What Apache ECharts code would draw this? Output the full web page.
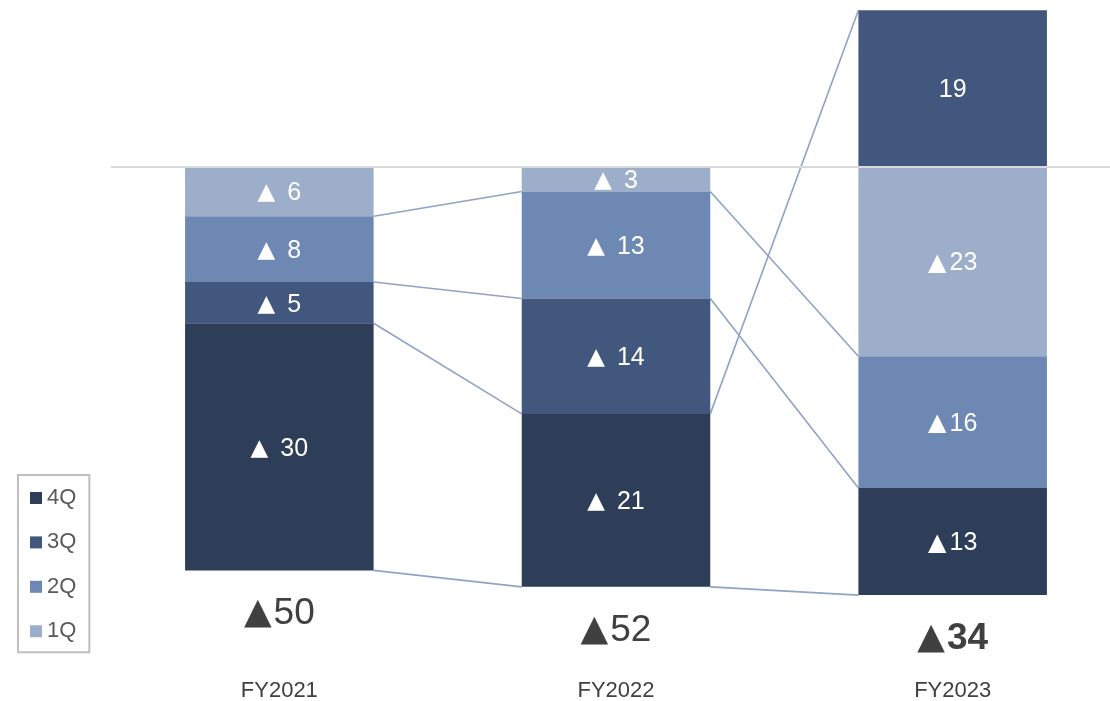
<!DOCTYPE html>
<html>
<head>
<meta charset="utf-8">
<script src="https://cdn.jsdelivr.net/npm/echarts@6/dist/echarts.min.js"></script>
<style>
  html, body { margin: 0; padding: 0; background: #ffffff; }
  #chart { width: 1110px; height: 701px; }
</style>
</head>
<body>
<div id="chart"></div>
<script>
// Fiscal years and quarterly results (negative = loss, shown with ▲)
const categories = ['FY2021', 'FY2022', 'FY2023'];
const quarterNames = ['1Q', '2Q', '3Q', '4Q'];
const q1 = [-6, -3, -23];
const q2 = [-8, -13, -16];
const q3 = [-5, -14, 19];
const q4 = [-30, -21, -13];
const totals = [-50, -52, -34];

const quarterColors = ['#9DAECB', '#6E88B4', '#42577E', '#2E3D58'];
const FONT = '"Liberation Sans", Arial, sans-serif';
const SYMBOL_FONT = '"DejaVu Sans", sans-serif';
const BAR_RATIO = 0.56;

const quarterValues = [q1, q2, q3, q4];

// Outer end of each stacked segment (positives and negatives stack separately)
const segmentEnds = quarterValues.map(() => []);
const stackBottoms = [];
categories.forEach((c, i) => {
  let pos = 0, neg = 0;
  quarterValues.forEach((vals, q) => {
    const v = vals[i];
    if (v >= 0) { pos += v; segmentEnds[q][i] = pos; }
    else { neg += v; segmentEnds[q][i] = neg; }
  });
  stackBottoms.push(neg);
});

function segLabel(p) {
  const v = p.value;
  if (v >= 0) return '{n|' + v + '}';
  const tri = p.dataIndex === 2 ? 't2' : 't';
  return '{' + tri + '|▲}{n|' + Math.abs(v) + '}';
}

const barSeries = quarterNames.map((name, q) => {
  const s = {
    name: name,
    type: 'bar',
    stack: 'total',
    barWidth: (BAR_RATIO * 100) + '%',
    data: quarterValues[q],
    itemStyle: { color: quarterColors[q] },
    label: {
      show: true,
      position: 'inside',
      offset: [0, 2],
      color: '#ffffff',
      formatter: segLabel,
      rich: {
        t: { color: '#ffffff', fontFamily: SYMBOL_FONT, fontSize: 23, padding: [0, 12, 0, 0] },
        t2: { color: '#ffffff', fontFamily: SYMBOL_FONT, fontSize: 24, padding: [0, 3, 0, 0] },
        n: { color: '#ffffff', fontFamily: FONT, fontSize: 25 }
      }
    },
    z: 2
  };
  if (q === 0) {
    s.markLine = {
      silent: true,
      symbol: ['none', 'none'],
      label: { show: false },
      lineStyle: { color: '#D9D9D9', width: 2, type: 'solid' },
      data: [{ yAxis: 0 }],
      z: 5
    };
  }
  return s;
});

// Connector lines between matching segment ends of neighbouring bars
const connectorSeries = {
  type: 'custom',
  silent: true,
  clip: false,
  z: 1,
  data: [[0], [1]],
  encode: { x: 0 },
  renderItem: function (params, api) {
    const i = api.value(0);
    const half = api.size([1, 0])[0] * BAR_RATIO / 2;
    const children = segmentEnds.map(ends => {
      const a = api.coord([i, ends[i]]);
      const b = api.coord([i + 1, ends[i + 1]]);
      return {
        type: 'line',
        shape: { x1: a[0] + half, y1: a[1], x2: b[0] - half, y2: b[1] },
        style: { stroke: '#90A3C6', lineWidth: 1.6 }
      };
    });
    return { type: 'group', children: children };
  }
};

// Year totals below each stack
const totalSeries = {
  type: 'scatter',
  silent: true,
  symbolSize: 0,
  itemStyle: { opacity: 1 },
  data: categories.map((c, i) => ({ value: [i, stackBottoms[i]] })),
  label: {
    show: true,
    opacity: 1,
    position: 'bottom',
    distance: 25,
    formatter: p => '{t|▲}{' + (p.dataIndex === 2 ? 'b' : 'n') + '|' + Math.abs(totals[p.dataIndex]) + '}',
    rich: {
      t: { color: '#404040', fontFamily: SYMBOL_FONT, fontSize: 36, padding: [0, 2, 0, 0] },
      n: { color: '#404040', fontFamily: FONT, fontSize: 37 },
      b: { color: '#404040', fontFamily: FONT, fontSize: 37, fontWeight: 'bold' }
    }
  },
  z: 3
};

const chart = echarts.init(document.getElementById('chart'), null, { renderer: 'canvas' });
chart.setOption({
  animation: false,
  backgroundColor: '#ffffff',
  grid: { left: 111, width: 1010, top: 2, bottom: 40, outerBoundsMode: 'none', containLabel: false },
  xAxis: {
    type: 'category',
    data: categories,
    axisLine: { show: false },
    axisTick: { show: false },
    axisLabel: { color: '#404040', fontSize: 22, fontFamily: FONT, margin: 19 }
  },
  yAxis: {
    type: 'value',
    min: -60,
    max: 20,
    show: false,
    splitLine: { show: false }
  },
  legend: {
    data: ['4Q', '3Q', '2Q', '1Q'],
    orient: 'vertical',
    left: 18,
    top: 475,
    icon: 'rect',
    itemWidth: 12,
    itemHeight: 12,
    itemGap: 22.4,
    padding: [12, 13, 10, 12],
    borderColor: '#BFBFBF',
    borderWidth: 2,
    textStyle: { color: '#595959', fontSize: 22, fontFamily: FONT }
  },
  series: [...barSeries, connectorSeries, totalSeries]
});
</script>
</body>
</html>
